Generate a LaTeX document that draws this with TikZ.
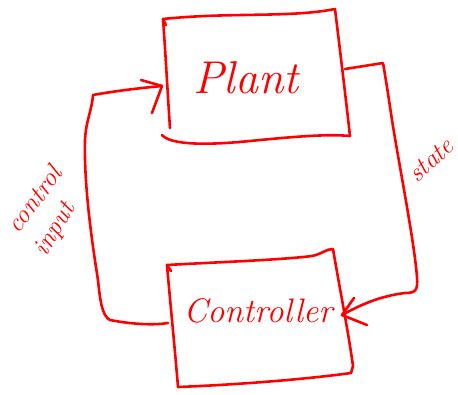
\documentclass[tikz,border=0pt]{standalone}
\usetikzlibrary{calc}
\definecolor{ink}{RGB}{255,0,0}
\begin{document}
\begin{tikzpicture}[x=1pt,y=-1pt,
  pen/.style={draw=ink,line width=2.6pt,line cap=round,line join=round},
  lbl/.style={text=ink,font=\itshape,inner sep=0pt},
  barb/.style={pen}]
\useasboundingbox (0,0) rectangle (458,394);

% Plant box
\coordinate (pTL) at (163,19);
\coordinate (pTR) at (335,9);
\coordinate (pBR) at (350,136);
\coordinate (pBL) at (162,135);
\draw[pen] (pTL) .. controls (230,12) and (290,18) .. (pTR)
  .. controls (340,50) and (346,100) .. (pBR);
\draw[pen] (pBL) .. controls (170,144) and (200,146) .. (250,141)
  .. controls (300,136) and (330,134) .. (pBR);
\draw[pen] (pTL) .. controls (166,60) and (168,100) .. (170,128);
\draw[pen] (pTL) -- (166,25);
\node[lbl,font=\itshape\fontsize{46}{46}\selectfont] (plant) at (246,78) {Plant};

% Controller box
\coordinate (cTL) at (167,265);
\coordinate (cTR) at (333,249);
\coordinate (cBR) at (351,373);
\coordinate (cBL) at (178,387);
\draw[pen] (cTL) .. controls (220,262) and (280,260) .. (312,256)
  .. controls (322,254) and (326,249) .. (cTR)
  .. controls (340,290) and (348,330) .. (353,366) -- (cBR)
  .. controls (300,380) and (230,385) .. (cBL);
\draw[pen] (cTL) .. controls (170,300) and (175,350) .. (cBL);
\draw[pen] (cTL) -- (171,271);
\node[lbl,font=\itshape\fontsize{34}{34}\selectfont] (ctrl) at (258,311) {Controller};

% state feedback: plant -> controller
\coordinate (sOut) at (345,69);
\coordinate (sIn) at (342,315);
\draw[pen] (sOut) -- (383,63) .. controls (386,80) and (389,100) .. (392,120)
  .. controls (400,170) and (414,240) .. (417,277)
  .. controls (418,290) and (416,293) .. (405,293)
  .. controls (380,296) and (360,305) .. (sIn);
\draw[barb] (sIn) -- (354,298);
\draw[barb] (sIn) -- (367,325);
\node[lbl,rotate=42,font=\itshape\fontsize{26}{26}\selectfont] (state) at (431,160) {state};

% control input: controller -> plant
\coordinate (uOut) at (168,323);
\coordinate (uIn) at (162,86);
\draw[pen] (uOut) .. controls (150,326) and (125,323) .. (110,320)
  .. controls (102,316) and (100,300) .. (98,280)
  .. controls (90,230) and (84,180) .. (85,140)
  .. controls (86,120) and (92,110) .. (93,95)
  .. controls (115,91) and (140,88) .. (uIn);
\draw[barb] (uIn) -- (141,80);
\draw[barb] (uIn) -- (152,113);
\node[lbl,rotate=53,font=\itshape\fontsize{26}{26}\selectfont] (uA) at (34,199) {control};
\node[lbl,rotate=60,font=\itshape\fontsize{26}{26}\selectfont] (uB) at (56,230) {input};
\end{tikzpicture}
\end{document}
